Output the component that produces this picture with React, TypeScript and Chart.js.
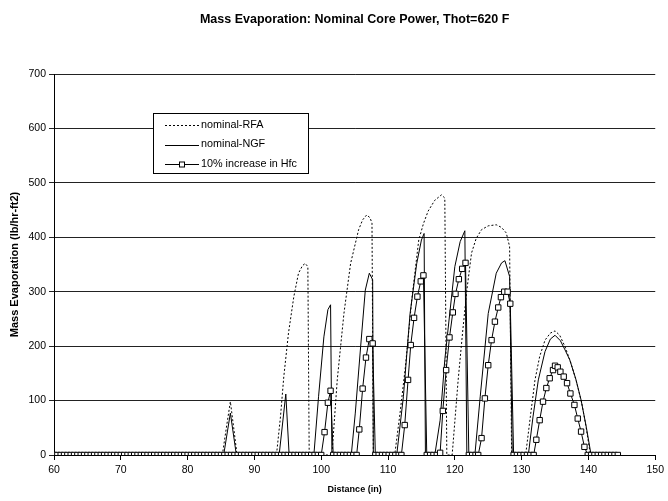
import React, { useEffect, useRef } from "react";
import { Chart, registerables } from "chart.js";

Chart.register(...registerables);

const TITLE = "Mass Evaporation: Nominal Core Power, Thot=620 F";
const X_TITLE = "Distance (in)";
const Y_TITLE = "Mass Evaporation (lb/hr-ft2)";
const SERIES_NAMES = ["nominal-RFA", "nominal-NGF", "10% increase in Hfc"];

const X_MIN = 60;
const X_MAX = 150;
const X_STEP = 10;
const Y_MIN = 0;
const Y_MAX = 700;
const Y_STEP = 100;

// nominal-RFA (dotted line): [distance, mass evaporation]
const rfaPoints: [number, number][] = [
  [60, 0], [85.2, 0], [85.8, 50], [86.4, 98], [86.9, 50], [87.4, 0],
  [93.3, 0], [93.9, 70], [94.4, 144], [95.1, 224], [95.9, 291], [96.6, 334], [97.2, 348], [97.6, 352], [98.0, 346], [98.2, 0],
  [101.6, 0], [102.4, 138], [103.4, 260], [104.4, 352], [105.6, 414], [106.2, 432], [106.8, 441], [107.3, 436], [107.6, 426], [107.8, 0],
  [111.0, 0], [111.8, 77], [112.6, 162], [113.6, 291], [114.6, 395], [115.3, 425], [116.0, 448], [117.0, 468], [118.0, 478], [118.5, 472], [118.8, 0],
  [119.6, 0], [120.5, 138], [121.2, 230], [121.8, 303], [122.5, 371], [123.2, 398], [124.0, 414], [125.0, 421], [126.2, 423], [127.0, 418], [127.7, 408], [128.2, 383], [128.5, 0],
  [130.6, 0], [131.3, 70], [132.0, 138], [132.7, 181], [133.5, 211], [134.3, 224], [135.0, 228], [135.7, 220], [136.5, 199], [137.4, 168], [138.2, 135], [139.0, 95], [139.6, 55], [140.3, 0], [144.4, 0],
];

// nominal-NGF (solid line)
const ngfPoints: [number, number][] = [
  [60, 0], [85.4, 0], [86.4, 77], [87.3, 0],
  [93.7, 0], [94.7, 112], [95.2, 0],
  [98.9, 0], [99.6, 107], [100.4, 217], [101.0, 267], [101.4, 276], [101.6, 0],
  [104.5, 0], [105.1, 77], [105.9, 199], [106.6, 303], [107.2, 334], [107.7, 322], [107.8, 0],
  [111.3, 0], [112.3, 107], [113.3, 260], [114.3, 352], [115.0, 395], [115.4, 407], [115.6, 0],
  [117.0, 0], [117.8, 64], [118.5, 175], [119.3, 267], [120.0, 346], [120.8, 392], [121.5, 412], [121.8, 0],
  [123.0, 0], [123.8, 107], [125.0, 260], [126.2, 334], [127.0, 353], [127.5, 357], [128.2, 328], [128.6, 0],
  [131.0, 0], [131.7, 70], [132.5, 138], [133.5, 190], [134.3, 213], [135.0, 220], [135.8, 210], [136.5, 193], [137.2, 175], [138.1, 140], [138.9, 101], [139.7, 50], [140.4, 0], [144.4, 0],
];

// 10% increase in Hfc (solid line with square markers)
const hfcPoints: [number, number][] = [
  [60, 0], [60.5, 0], [61, 0], [61.5, 0], [62, 0], [62.5, 0], [63, 0], [63.5, 0], [64, 0], [64.5, 0],
  [65, 0], [65.5, 0], [66, 0], [66.5, 0], [67, 0], [67.5, 0], [68, 0], [68.5, 0], [69, 0], [69.5, 0],
  [70, 0], [70.5, 0], [71, 0], [71.5, 0], [72, 0], [72.5, 0], [73, 0], [73.5, 0], [74, 0], [74.5, 0],
  [75, 0], [75.5, 0], [76, 0], [76.5, 0], [77, 0], [77.5, 0], [78, 0], [78.5, 0], [79, 0], [79.5, 0],
  [80, 0], [80.5, 0], [81, 0], [81.5, 0], [82, 0], [82.5, 0], [83, 0], [83.5, 0], [84, 0], [84.5, 0],
  [85, 0], [85.5, 0], [86, 0], [86.5, 0], [87, 0], [87.5, 0], [88, 0], [88.5, 0], [89, 0], [89.5, 0],
  [90, 0], [90.5, 0], [91, 0], [91.5, 0], [92, 0], [92.5, 0], [93, 0], [93.5, 0], [94, 0], [94.5, 0],
  [95, 0], [95.5, 0], [96, 0], [96.5, 0], [97, 0], [97.5, 0], [98, 0], [98.5, 0], [99, 0], [99.5, 0],
  [100, 0], [100.5, 42], [101.0, 96], [101.4, 118], [101.8, 0],
  [102.3, 0], [102.8, 0], [103.3, 0], [103.8, 0], [104.3, 0], [104.8, 0], [105.3, 0],
  [105.7, 47], [106.2, 122], [106.7, 179], [107.2, 213], [107.7, 205], [108.1, 0],
  [108.6, 0], [109.1, 0], [109.6, 0], [110.1, 0], [110.6, 0], [111.1, 0], [111.6, 0], [112.0, 0],
  [112.5, 55], [113.0, 138], [113.4, 202], [113.9, 252], [114.4, 291], [114.9, 319], [115.3, 330], [115.8, 0],
  [116.3, 0], [116.8, 0], [117.3, 0],
  [117.8, 4], [118.2, 81], [118.7, 156], [119.2, 216], [119.7, 262], [120.1, 296], [120.6, 323], [121.1, 342], [121.6, 353], [122.1, 0],
  [122.6, 0], [123.1, 0], [123.5, 0],
  [124.0, 31], [124.5, 104], [125.0, 165], [125.5, 211], [126.0, 245], [126.5, 271], [126.9, 290], [127.4, 300], [127.9, 300], [128.3, 278], [128.8, 0],
  [129.3, 0], [129.8, 0], [130.3, 0], [130.8, 0], [131.3, 0], [131.8, 0],
  [132.2, 28], [132.7, 64], [133.2, 98], [133.7, 123], [134.2, 141], [134.7, 156], [135.0, 164], [135.4, 161], [135.8, 153],
  [136.3, 144], [136.8, 132], [137.3, 113], [137.9, 92], [138.4, 67], [138.9, 43], [139.4, 15], [139.9, 0],
  [140.4, 0], [140.9, 0], [141.4, 0], [141.9, 0], [142.4, 0], [142.9, 0], [143.4, 0], [143.9, 0], [144.4, 0],
];

const FONT = "'Liberation Sans', Arial, Helvetica, sans-serif";

const toXY = (pts: [number, number][]) => pts.map(([x, y]) => ({ x, y }));

const boxLegend = {
  id: "boxLegend",
  afterDatasetsDraw(chart: any) {
    const ctx = chart.ctx as CanvasRenderingContext2D;
    const x0 = 153.5;
    const y0 = 113.5;
    const w = 155;
    const h = 60;
    ctx.save();
    ctx.fillStyle = "#ffffff";
    ctx.fillRect(x0, y0, w, h);
    ctx.strokeStyle = "#000000";
    ctx.lineWidth = 1;
    ctx.setLineDash([]);
    ctx.strokeRect(x0, y0, w, h);
    const rows = [125, 144.5, 164];
    const lx1 = 165;
    const lx2 = 199;
    rows.forEach((ry, i) => {
      const y = Math.round(ry) + 0.5;
      ctx.beginPath();
      ctx.setLineDash(i === 0 ? [2, 2] : []);
      ctx.moveTo(lx1, y);
      ctx.lineTo(lx2, y);
      ctx.stroke();
      ctx.setLineDash([]);
      if (i === 2) {
        const cx = 182;
        ctx.fillStyle = "#ffffff";
        ctx.fillRect(cx - 2.5, y - 2.5, 5, 5);
        ctx.strokeRect(cx - 2.5, y - 2.5, 5, 5);
      }
      ctx.fillStyle = "#000000";
      ctx.font = `10.8px ${FONT}`;
      ctx.textAlign = "left";
      ctx.textBaseline = "middle";
      ctx.fillText(SERIES_NAMES[i], 201, ry);
    });
    ctx.restore();
  },
};

export default function App() {
  const canvasRef = useRef<HTMLCanvasElement | null>(null);

  useEffect(() => {
    document.body.style.margin = "0";
    const canvas = canvasRef.current;
    if (!canvas) return;
    const chart = new Chart(canvas, {
      type: "scatter",
      data: {
        datasets: [
          {
            label: SERIES_NAMES[0],
            data: toXY(rfaPoints),
            showLine: true,
            borderColor: "#000",
            borderWidth: 1,
            borderDash: [2, 2],
            pointRadius: 0,
            tension: 0,
            order: 2,
          },
          {
            label: SERIES_NAMES[1],
            data: toXY(ngfPoints),
            showLine: true,
            borderColor: "#000",
            borderWidth: 1,
            pointRadius: 0,
            tension: 0,
            order: 1,
          },
          {
            label: SERIES_NAMES[2],
            data: toXY(hfcPoints),
            showLine: true,
            borderColor: "#000",
            borderWidth: 1,
            pointStyle: "rect",
            pointRadius: 3.8,
            pointBackgroundColor: "#fff",
            pointBorderColor: "#000",
            pointBorderWidth: 1,
            tension: 0,
            order: 0,
          },
        ],
      },
      options: {
        responsive: false,
        animation: false,
        events: [],
        layout: { padding: { left: 0, right: 11, top: 0, bottom: 0 } },
        plugins: {
          legend: { display: false },
          tooltip: { enabled: false },
          title: {
            display: true,
            fullSize: false,
            text: TITLE,
            color: "#000",
            font: { family: FONT, size: 12.5, weight: "bold" },
            padding: { top: 12.5, bottom: 46.5 },
          },
        },
        scales: {
          x: {
            type: "linear",
            min: X_MIN,
            max: X_MAX,
            ticks: {
              stepSize: X_STEP,
              color: "#000",
              font: { family: FONT, size: 10.5 },
              padding: 4,
              maxRotation: 0,
            },
            grid: { drawOnChartArea: false, drawTicks: true, tickLength: 5, color: "#000" },
            border: { display: true, color: "#000", width: 1 },
            title: {
              display: true,
              text: X_TITLE,
              color: "#000",
              font: { family: FONT, size: 9, weight: "bold" },
              padding: { top: 0, bottom: 5.6 },
            },
            afterFit: (s: any) => {
              s.height = 46;
            },
          },
          y: {
            type: "linear",
            min: Y_MIN,
            max: Y_MAX,
            ticks: {
              stepSize: Y_STEP,
              color: "#000",
              font: { family: FONT, size: 10.5 },
              padding: 3,
            },
            grid: { drawOnChartArea: true, drawTicks: true, tickLength: 5, color: "#222" },
            border: { display: true, color: "#000", width: 1 },
            title: {
              display: true,
              text: Y_TITLE,
              color: "#000",
              font: { family: FONT, size: 11, weight: "bold" },
              padding: { top: 8.4, bottom: 0 },
            },
            afterFit: (s: any) => {
              s.width = 54;
            },
          },
        },
      },
      plugins: [boxLegend],
    } as any);
    return () => chart.destroy();
  }, []);

  return (
    <div style={{ width: 668, height: 501, position: "relative", background: "#fff" }}>
      <canvas ref={canvasRef} width={668} height={501} style={{ display: "block" }} />
    </div>
  );
}
